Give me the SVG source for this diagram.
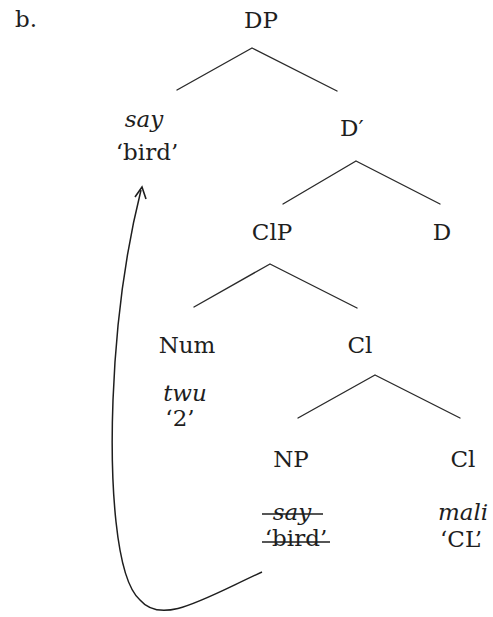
<svg xmlns="http://www.w3.org/2000/svg" width="493" height="617" viewBox="0 0 493 617">
  <defs>
    <style>
      .t { font-family: "DejaVu Serif", "Liberation Serif", serif; font-size: 23px; fill: #1e1e1e; text-anchor: middle; }
      .i { font-style: italic; }
      .br { stroke: #2a2a2a; stroke-width: 1.4; fill: none; stroke-linecap: round; }
      .strike { stroke: #1e1e1e; stroke-width: 1.3; }
    </style>
    <marker id="arrow" viewBox="0 0 10 10" refX="5" refY="1" markerWidth="10" markerHeight="10" markerUnits="userSpaceOnUse" orient="auto-start-reverse">
      <path d="M0,0 L10,5 L0,10" fill="none" stroke="#1e1e1e" stroke-width="1.6"/>
    </marker>
  </defs>
  <rect width="493" height="617" fill="#ffffff"/>

  <text class="t" x="15" y="27" style="text-anchor:start">b.</text>

  <g id="connectors">
    <path class="br" d="M252,48 L177,90 M252,48 L337,91"/>
    <path class="br" d="M356,161 L283,204 M356,161 L440,204"/>
    <path class="br" d="M270,264 L194,307 M270,264 L357,308"/>
    <path class="br" d="M375,375 L298,418 M375,375 L460,418"/>
    <path id="movement" d="M262,572 C205,598 162,626 140,600 C115,578 110,480 113,400 C116,320 126,250 141,190" fill="none" stroke="#1e1e1e" stroke-width="1.5"/>
    <path d="M135,197 L142,187 L146,199" fill="none" stroke="#1e1e1e" stroke-width="1.6" stroke-linejoin="miter"/>
  </g>

  <g id="node-DP"><text class="t" x="261" y="28">DP</text></g>
  <g id="node-spec">
    <text class="t i" x="144" y="127">say</text>
    <text class="t" x="147" y="160">‘bird’</text>
  </g>
  <g id="node-Dbar"><text class="t" x="340" y="136" style="text-anchor:start">D′</text></g>
  <g id="node-ClP"><text class="t" x="272" y="240">ClP</text></g>
  <g id="node-D"><text class="t" x="442" y="240">D</text></g>
  <g id="node-Num">
    <text class="t" x="187" y="353">Num</text>
    <text class="t i" x="185" y="401">twu</text>
    <text class="t" x="180" y="426">‘2’</text>
  </g>
  <g id="node-Clbar"><text class="t" x="360" y="353">Cl</text></g>
  <g id="node-NP">
    <text class="t" x="291" y="467">NP</text>
    <text class="t i" x="292" y="520">say</text>
    <text class="t" x="296" y="546">‘bird’</text>
    <line class="strike" x1="262" y1="514" x2="323" y2="514"/>
    <line class="strike" x1="262" y1="542" x2="330" y2="542"/>
  </g>
  <g id="node-Cl">
    <text class="t" x="463" y="467">Cl</text>
    <text class="t i" x="463" y="520">mali</text>
    <text class="t" x="461" y="547">‘CL’</text>
  </g>
</svg>
